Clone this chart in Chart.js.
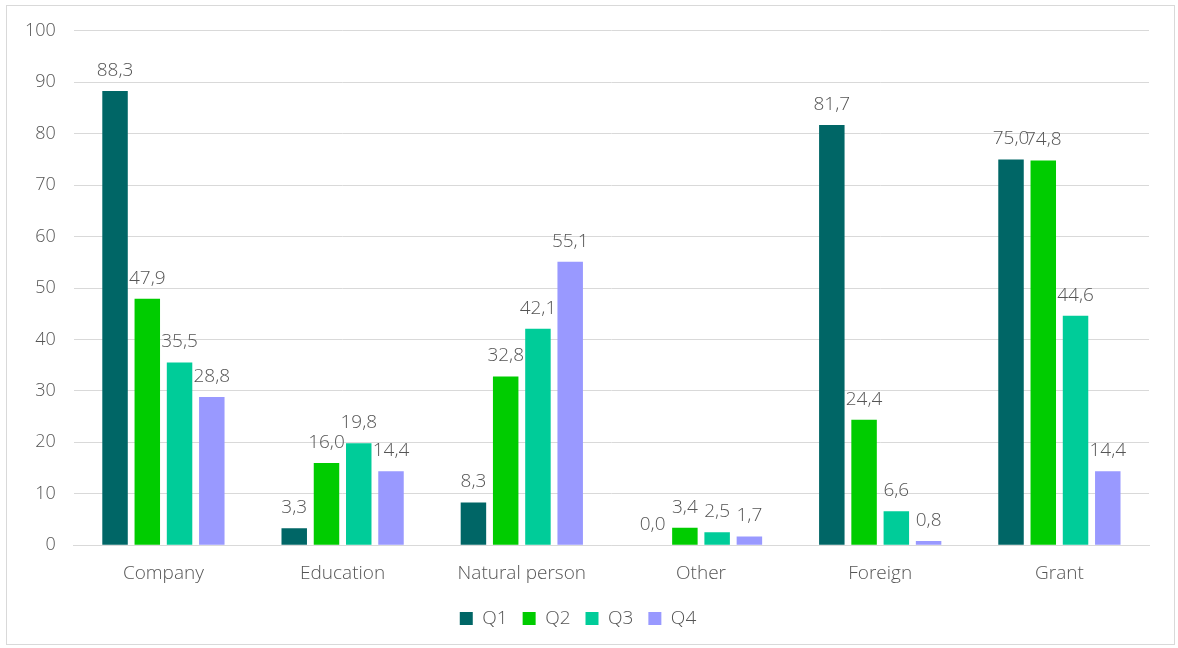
<!DOCTYPE html>
<html>
<head>
<meta charset="utf-8">
<script src="https://cdn.jsdelivr.net/npm/chart.js@4.4.0/dist/chart.umd.min.js"></script>
<style>
    html, body { margin: 0; padding: 0; background: #fff; }
    #box {
        position: absolute; left: 6px; top: 5px;
        width: 1167px; height: 638px;
        border: 1px solid #d9d9d9;
        overflow: hidden;
    }
    canvas { display: block; margin-top: -4px; }
</style>
</head>
<body>
<div id="box"><canvas id="chart" width="1167" height="642"></canvas></div>
<script>
const categories = ['Company', 'Education', 'Natural person', 'Other', 'Foreign', 'Grant'];
const q1 = [88.3, 3.3, 8.3, 0.0, 81.7, 75.0];
const q2 = [47.9, 16.0, 32.8, 3.4, 24.4, 74.8];
const q3 = [35.5, 19.8, 42.1, 2.5, 6.6, 44.6];
const q4 = [28.8, 14.4, 55.1, 1.7, 0.8, 14.4];
const yTicks = [0, 10, 20, 30, 40, 50, 60, 70, 80, 90, 100];

const FONT = '"Open Sans", sans-serif';
const GREY = '#555555';

// Plugin : valeur au-dessus de chaque barre
const barValuePlugin = {
    id: 'barValue',
    afterDatasetsDraw(chart) {
        const { ctx } = chart;
        ctx.save();
        ctx.font         = '300 19px ' + FONT;
        ctx.fillStyle    = GREY;
        ctx.textAlign    = 'center';
        ctx.textBaseline = 'bottom';
        chart.data.datasets.forEach((ds, i) => {
            chart.getDatasetMeta(i).data.forEach((bar, j) => {
                const txt = ds.data[j].toFixed(1).replace('.', ',');
                ctx.fillText(txt, bar.x, bar.y - 11);
            });
        });
        ctx.restore();
    }
};

function makeDataset(label, data, color) {
    return {
        label, data,
        backgroundColor: color,
        borderWidth: 0,
        barPercentage: 0.79,
        categoryPercentage: 0.72
    };
}

new Chart(document.getElementById('chart').getContext('2d'), {
    type: 'bar',
    data: {
        labels: categories,
        datasets: [
            makeDataset('Q1', q1, '#006666'),
            makeDataset('Q2', q2, '#00cc00'),
            makeDataset('Q3', q3, '#00cc99'),
            makeDataset('Q4', q4, '#9999ff')
        ]
    },
    options: {
        responsive: false,
        animation: false,
        layout: { padding: { top: 0, right: 25, bottom: 6, left: 0 } },
        plugins: {
            legend: {
                position: 'bottom',
                labels: {
                    boxWidth: 13, boxHeight: 13,
                    padding: 15,
                    color: GREY,
                    font: { family: FONT, size: 19, weight: 300 }
                }
            },
            tooltip: { enabled: false }
        },
        scales: {
            x: {
                grid: { display: false },
                border: { color: '#d9d9d9', width: 1 },
                ticks: { color: GREY, font: { family: FONT, size: 19, weight: 300 }, padding: 9 }
            },
            y: {
                min: 0, max: 100,
                afterBuildTicks: axis => { axis.ticks = yTicks.map(v => ({ value: v })); },
                grid: { color: '#d9d9d9', lineWidth: 1, drawTicks: false },
                border: { display: false },
                ticks: { color: GREY, font: { family: FONT, size: 18, weight: 300 }, padding: 18 }
            }
        }
    },
    plugins: [barValuePlugin]
});
</script>
</body>
</html>
